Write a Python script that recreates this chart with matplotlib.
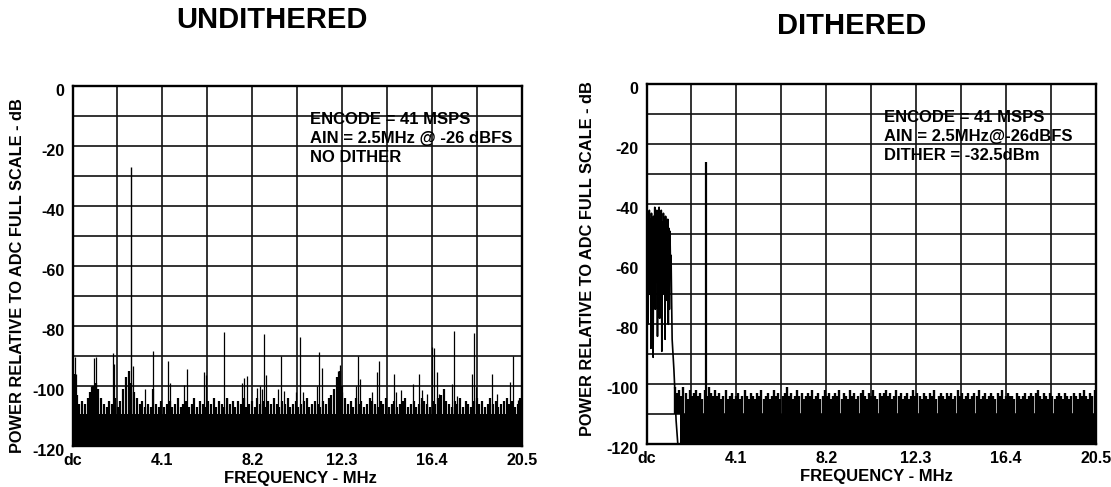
import numpy as np
import matplotlib
matplotlib.use("Agg")
import matplotlib.pyplot as plt
from matplotlib.transforms import ScaledTranslation

plt.rcParams['font.family'] = ['Liberation Sans', 'DejaVu Sans']
plt.rcParams['font.weight'] = 'bold'

# ---------------- data ----------------
x_tick_vals = [0, 4.1, 8.2, 12.3, 16.4, 20.5]
x_tick_labels = ['dc', '4.1', '8.2', '12.3', '16.4', '20.5']
y_tick_vals = [-120, -100, -80, -60, -40, -20, 0]
y_tick_labels = ['-120', '-100', '-80', '-60', '-40', '-20', '0']

# UNDITHERED
left_floor = -109.5
left_noise = [
    -96, -103, -106, -105, -106, -104, -102, -100, -99, -101,
    -104, -106, -107, -105, -106, -104, -107, -105, -101, -97,
    -95, -99, -102, -104, -106, -105, -107, -106, -107, -101,
    -106, -107, -105, -107, -106, -105, -107, -106, -104, -107,
    -106, -105, -107, -106, -104, -107, -105, -106, -107, -105,
    -106, -104, -107, -105, -106, -107, -104, -106, -105, -107,
    -105, -106, -104, -107, -106, -105, -107, -104, -106, -105,
    -107, -105, -106, -104, -106, -107, -105, -106, -104, -107,
    -106, -105, -107, -106, -105, -104, -107, -106, -105, -106,
    -107, -105, -106, -104, -103, -101, -97, -95, -100, -104,
    -106, -105, -107, -104, -106, -105, -107, -106, -104, -105,
    -106, -107, -105, -106, -104, -107, -106, -105, -107, -106,
    -105, -104, -107, -106, -105, -107, -106, -104, -105, -106,
    -107, -105, -106, -104, -103, -101, -105, -106, -107, -105,
    -106, -104, -107, -105, -106, -107, -105, -104, -106, -105,
    -107, -106, -104, -106, -105, -107, -106, -105, -104, -106,
    -105, -107, -106, -104,
]
left_spur_f = [0.11, 0.16, 0.83, 1.0, 1.08, 1.83, 1.9, 2.75, 3.3, 3.66,
               4.37, 4.45, 5.1, 5.21, 6.0, 6.07, 6.93, 7.05, 7.72, 7.84,
               7.96, 8.41, 8.56, 8.65, 8.75, 8.82, 9.4, 9.52, 9.63, 10.2,
               10.38, 10.5, 11.15, 11.27, 11.37, 12.13, 12.21, 12.3, 12.92, 13.04,
               13.14, 13.65, 13.88, 14.0, 14.67, 14.77, 15.0, 15.55, 15.83, 15.95,
               16.2, 16.42, 16.5, 16.62, 16.72, 17.3, 17.42, 17.55, 18.22, 18.32,
               18.42, 19.13, 19.35, 19.97, 20.09, 20.35]
left_spur_v = [-90.3, -96, -100, -90.9, -90.5, -89, -92.7, -93.5, -101, -88.4,
               -91.7, -99, -99.6, -94.5, -95.5, -96.4, -82, -104, -99.2, -97.5,
               -96.9, -100.6, -100, -101, -82.7, -96.5, -101, -90.1, -101.8, -102,
               -83.7, -102, -100, -88.7, -94.2, -95, -93.2, -102, -100, -90.1,
               -97.6, -102, -95.3, -91.8, -96.2, -102, -101.5, -99.3, -96.2, -101.5,
               -102.7, -87.2, -87.5, -95.5, -102.8, -99.3, -81.7, -103.3, -96.2, -82.5,
               -100.5, -96.2, -102.7, -98.8, -90.1, -104.7]
left_tone_f = 2.65
left_tone_v = -27.2

# DITHERED
right_floor = -110.0
right_floor_start = 1.52
right_noise_start = 1.3
right_noise = [
    -101, -103, -102, -104, -101, -103, -105, -102, -104, -103,
    -102, -104, -103, -105, -102, -104, -101, -103, -104, -102,
    -104, -103, -105, -104, -102, -105, -104, -103, -105, -104,
    -103, -105, -104, -102, -104, -105, -103, -104, -105, -103,
    -104, -102, -105, -104, -103, -105, -104, -102, -104, -103,
    -105, -104, -103, -101, -104, -103, -105, -104, -102, -104,
    -103, -105, -104, -103, -104, -102, -105, -104, -103, -105,
    -104, -102, -104, -103, -105, -104, -103, -104, -102, -105,
    -103, -104, -105, -102, -104, -103, -105, -104, -103, -102,
    -104, -105, -103, -104, -102, -104, -105, -103, -104, -103,
    -102, -104, -103, -105, -104, -102, -104, -103, -105, -104,
    -103, -105, -104, -102, -104, -103, -104, -105, -103, -104,
    -105, -103, -104, -102, -105, -104, -103, -104, -105, -103,
    -104, -103, -105, -104, -102, -104, -103, -105, -104, -103,
    -105, -104, -103, -104, -102, -105, -104, -103, -105, -104,
    -103, -104, -105, -103, -104, -102, -105, -104, -103, -104,
    -104, -105, -103, -104, -105, -104, -103, -105, -104, -103,
    -104, -103, -102, -104, -105, -103, -104, -105, -103, -104,
    -105, -104, -103, -104, -105, -103, -104, -105, -104, -103,
    -104, -105, -103, -104, -102, -104, -105, -103, -104, -102,
]
dither_v = [-43, -80, -44, -62, -42, -70, -45, -88, -43, -58,
            -46, -91, -44, -66, -41, -75, -43, -60, -42, -84,
            -45, -68, -41, -78, -44, -63, -42, -89, -46, -70,
            -43, -60, -45, -85, -44, -72, -47, -66, -45, -80,
            -48, -75, -49, -60, -57]
dither_tail_f = [1.17, 1.25, 1.3, 1.35, 1.43, 1.5]
dither_tail_v = [-85, -95, -103, -112, -120, -120]
right_tone_f = 2.72
right_tone_v = -25.8

left_text = ['ENCODE = 41 MSPS', 'AIN = 2.5MHz @ -26 dBFS', 'NO DITHER']
right_text = ['ENCODE = 41 MSPS', 'AIN = 2.5MHz@-26dBFS', 'DITHER = -32.5dBm']

# ---------------- figure ----------------
W, H = 1111, 487
fig = plt.figure(figsize=(W / 100, H / 100), dpi=100)

def px_axes(x0, y0, x1, y1):
    return fig.add_axes([x0 / W, 1 - y1 / H, (x1 - x0) / W, (y1 - y0) / H])

axL = px_axes(72.5, 85.7, 521.7, 445.7)
axR = px_axes(646.5, 84.3, 1095.7, 444.3)

def style(ax):
    ax.set_xlim(0, 20.5)
    ax.set_ylim(-120, 0)
    ax.set_xticks(x_tick_vals)
    ax.set_xticklabels(x_tick_labels)
    ax.set_xticks([2.05, 6.15, 10.25, 14.35, 18.45], minor=True)
    ax.set_yticks(y_tick_vals)
    ax.set_yticklabels(y_tick_labels)
    ax.set_yticks([-110, -90, -70, -50, -30, -10], minor=True)
    ax.grid(True, which='both', color='#111111', lw=1.2)
    ax.set_axisbelow(True)
    ax.tick_params(which='both', length=0)
    ax.tick_params(axis='x', pad=5, labelsize=11.5)
    ax.tick_params(axis='y', pad=6, labelsize=11.5)
    for s in ax.spines.values():
        s.set_linewidth(1.7)
        s.set_color('black')
    off = ScaledTranslation(0, -4 / 100, fig.dpi_scale_trans)
    for lab in ax.get_yticklabels():
        lab.set_transform(lab.get_transform() + off)
        lab.set_fontweight('bold')
    for lab in ax.get_xticklabels():
        lab.set_fontweight('bold')

style(axL)
style(axR)

# left spectrum
fL = np.linspace(0.06, 20.44, len(left_noise))
axL.fill_between([0, 20.5], -120, left_floor, color='black', lw=0)
axL.vlines(fL, -120, left_noise, color='black', lw=1.6)
axL.vlines(left_spur_f, -120, left_spur_v, color='black', lw=0.9)
axL.vlines([left_tone_f], -120, [left_tone_v], color='black', lw=1.0)

# right spectrum
fR = np.linspace(right_noise_start, 20.45, len(right_noise))
axR.fill_between([right_floor_start, 20.5], -120, right_floor, color='black', lw=0)
axR.vlines(fR, right_floor, right_noise, color='black', lw=1.7)
fD = np.linspace(0.03, 1.12, len(dither_v))
axR.plot(list(fD) + dither_tail_f, dither_v + dither_tail_v, color='black', lw=1.2)
axR.vlines([right_tone_f], -120, [right_tone_v], color='black', lw=1.6)

# annotations
for ax, lines in ((axL, left_text), (axR, right_text)):
    for k, t in enumerate(lines):
        ax.text(10.84, -11.1 - 6.35 * k, t, fontsize=12, fontweight='bold',
                ha='left', va='center')

# axis labels and titles
ylab = 'POWER RELATIVE TO ADC FULL SCALE - dB'
fig.text(17.8 / W, 1 - 276 / H, ylab, rotation=90, fontsize=11.8,
         fontweight='bold', ha='center', va='center')
fig.text(587.5 / W, 1 - 259 / H, ylab, rotation=90, fontsize=11.8,
         fontweight='bold', ha='center', va='center')
fig.text(300.6 / W, 1 - 478 / H, 'FREQUENCY - MHz', fontsize=12,
         fontweight='bold', ha='center', va='center')
fig.text(876 / W, 1 - 477 / H, 'FREQUENCY - MHz', fontsize=12,
         fontweight='bold', ha='center', va='center')
fig.text(272 / W, 1 - 19.5 / H, 'UNDITHERED', fontsize=21, fontweight='bold',
         ha='center', va='center')
fig.text(852 / W, 1 - 26 / H, 'DITHERED', fontsize=21, fontweight='bold',
         ha='center', va='center')

fig.savefig('out.png', dpi=100)
